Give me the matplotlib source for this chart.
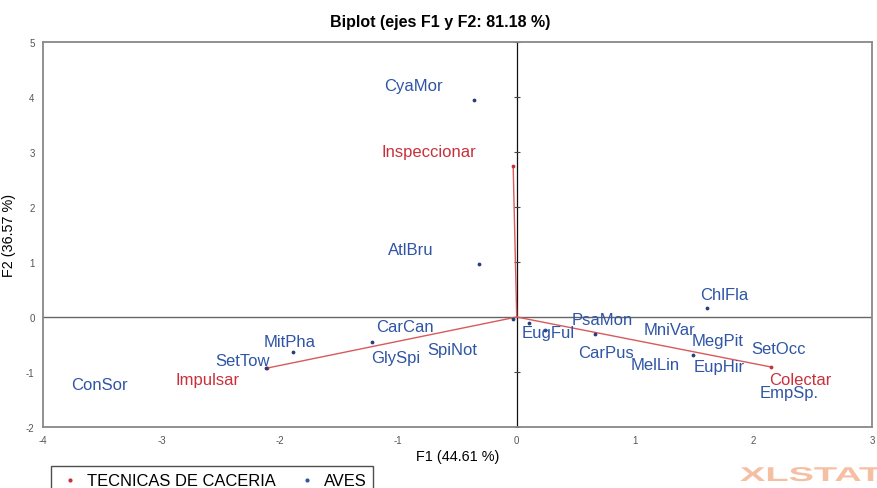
import numpy as np
import matplotlib
matplotlib.use('Agg')
import matplotlib.pyplot as plt
from matplotlib.textpath import TextPath
from matplotlib.patches import PathPatch
from matplotlib.font_manager import FontProperties
from matplotlib.transforms import Affine2D, IdentityTransform

plt.rcParams['font.family'] = ['Liberation Sans', 'DejaVu Sans']
plt.rcParams['axes.unicode_minus'] = False

# Biplot data (F1, F2)
aves = ['CyaMor', 'AtlBru', 'ChlFla', 'MitPha', 'SetTow', 'ConSor', 'CarCan',
        'GlySpi', 'SpiNot', 'EugFul', 'PsaMon', 'CarPus', 'MniVar', 'MelLin',
        'MegPit', 'EupHir', 'SetOcc', 'EmpSp.']
aves_f1 = [-0.36, -0.32, 1.61, -1.89, -2.12, -3.52, -1.05, -1.22, -0.03, 0.10,
           0.24, 0.66, 1.29, 1.17, 1.70, 1.49, 2.21, 2.30]
aves_f2 = [3.95, 0.97, 0.16, -0.64, -0.92, -1.22, -0.20, -0.46, -0.04, -0.11,
           -0.24, -0.31, -0.22, -0.86, -0.42, -0.69, -0.58, -1.38]

tecnicas = ['Inspeccionar', 'Colectar', 'Impulsar']
tec_f1 = [-0.03, 2.15, -2.11]
tec_f2 = [2.75, -0.91, -0.93]

# label offsets in points (dx, dy) relative to each point
aves_off = [(-44, 10), (-49, 10), (12, 10), (-2, 8), (-17, 5), (0, 0), (9, 1),
            (17, -11), (-44, -22), (14, -7), (41, 8), (8, -13), (0, 0), (0, 0),
            (0, 0), (19, -8), (0, 0), (0, 0)]
# dots that are covered by their own label in the original
aves_dot = [1, 1, 1, 1, 1, 0, 0, 1, 1, 1, 1, 1, 0, 0, 0, 1, 0, 0]
tec_off = [(-61, 10), (21, -9), (-43, -8)]

blue = '#2f55a4'
red = '#c9313a'
line_red = '#d9595c'

fig = plt.figure(figsize=(8.78, 4.89), dpi=100)
ax = fig.add_axes([43/878, 1-428/489, (872-43)/878, (428-43)/489])
ax.set_xlim(-4, 3)
ax.set_ylim(-2, 5)

# zero axes, vertical one with small ticks
ax.axhline(0, color='#666666', lw=1.0, zorder=1)
ax.axvline(0, color='#111111', lw=0.9, zorder=1)
xt = np.arange(-4, 4)
yt = np.arange(-2, 6)
ax.plot(np.zeros_like(yt), yt, ls='none', marker='_', ms=5, color='#444444', mew=0.8)

# vectors for techniques
for x, y in zip(tec_f1, tec_f2):
    ax.plot([0, x], [0, y], color=line_red, lw=1.0, zorder=2)
ax.scatter(tec_f1, tec_f2, s=3, color=red, zorder=3)
for name, x, y, (dx, dy) in zip(tecnicas, tec_f1, tec_f2, tec_off):
    ax.annotate(name, (x, y), textcoords='offset points', xytext=(dx, dy),
                ha='center', va='center', color=red, fontsize=12)

# birds
vis = np.array(aves_dot, dtype=bool)
ax.scatter(np.array(aves_f1)[vis], np.array(aves_f2)[vis], s=3, color='#2a3f7a', zorder=3)
for name, x, y, (dx, dy) in zip(aves, aves_f1, aves_f2, aves_off):
    ax.annotate(name, (x, y), textcoords='offset points', xytext=(dx, dy),
                ha='center', va='center', color=blue, fontsize=12)

ax.set_xticks(xt)
ax.set_yticks(yt)
ax.tick_params(length=0, labelsize=7, colors='#555555', pad=6)
for s in ax.spines.values():
    s.set_color('#888888')
    s.set_linewidth(1.3)

fig.text(440/878, 1-22/489, 'Biplot (ejes F1 y F2: 81.18 %)', fontsize=11.5,
         fontweight='bold', ha='center', va='center')
ax.set_xlabel('F1 (44.61 %)', fontsize=10.4, labelpad=3)
ax.set_ylabel('F2 (36.57 %)', fontsize=10.4)
ax.yaxis.set_label_coords(-27/829, 0.5)

h1 = ax.scatter([], [], s=4, color=red, label='TECNICAS DE CACERIA')
h2 = ax.scatter([], [], s=4, color=blue, label='AVES')
fig.legend(handles=[h1, h2], loc='upper left', bbox_to_anchor=(51/878, 1-467/489),
           borderaxespad=0, ncol=2, frameon=True, fancybox=False, edgecolor='#222222',
           fontsize=11.9, handlelength=1.5, handletextpad=0.3, columnspacing=1.1,
           borderpad=0.4)

# stretched watermark
tp = TextPath((0, 0), 'XLSTAT', size=20, prop=FontProperties(family='Liberation Sans', weight='bold'))
tr = Affine2D().scale(1.9, 1.0).translate(740, 489-482)
fig.patches.append(PathPatch(tr.transform_path(tp), transform=IdentityTransform(),
                             facecolor='#f5bfa3', edgecolor='none'))

fig.savefig('out.png', dpi=100)
